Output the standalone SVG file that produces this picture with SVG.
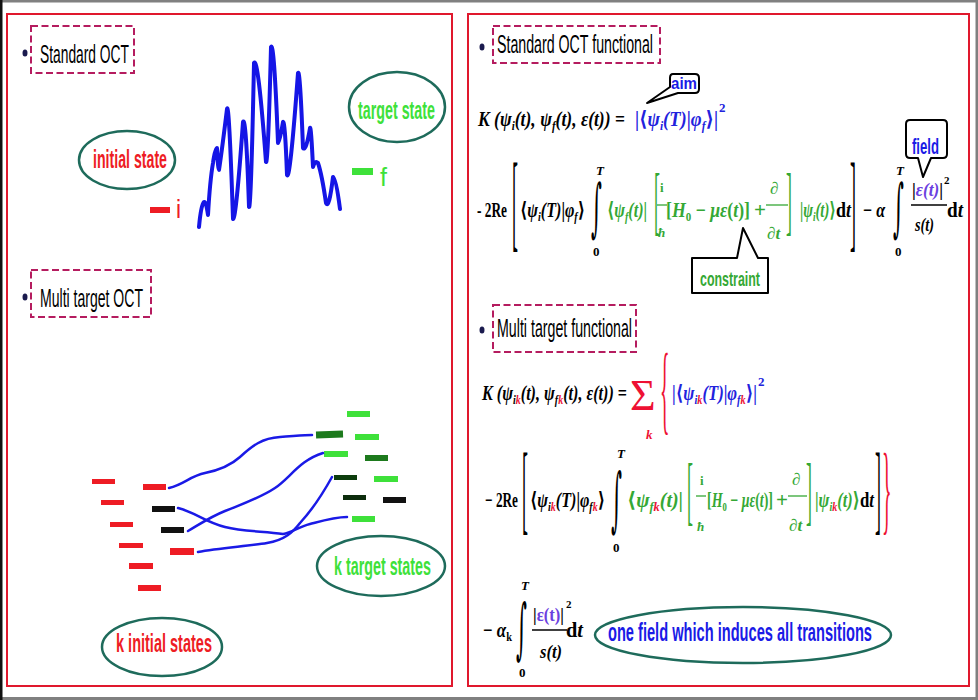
<svg xmlns="http://www.w3.org/2000/svg" width="978" height="700" viewBox="0 0 978 700">
<style>
.panel{fill:none;stroke:#e0182d;stroke-width:2}
.dash{fill:#fff;stroke:#b51c5f;stroke-width:2;stroke-dasharray:7 3.5}
.bul{fill:#1a1a4e}
.hd{font-family:"Liberation Sans",Arial,sans-serif;font-size:26px;fill:#000}
.lab{font-family:"Liberation Sans",Arial,sans-serif;font-weight:bold;font-size:25px}
.ell{fill:#fff;stroke:#1e6b5b;stroke-width:2.5}
.red{fill:#ee1c24}
.grn{fill:#3ee13a}
.blu{fill:#1a1ae6}
.wave{fill:none;stroke:#1515e6;stroke-width:4;stroke-linejoin:round;stroke-linecap:round}
.conn{fill:none;stroke:#1a1ae6;stroke-width:2.5;stroke-linecap:round;stroke-linejoin:round}
.m{font-family:"Liberation Serif","DejaVu Serif",serif;font-weight:bold;font-style:italic;font-size:21px}
.n{font-style:normal}
.s{font-size:13px}
.eg{fill:#35a835}
.eb{fill:#2222dd}
.ep{fill:#6a40e0}
.er{fill:#ee1133}
.big{font-family:"Liberation Serif","DejaVu Serif",serif;font-size:36px}
.int{font-family:"DejaVu Serif",serif;font-size:60px}
.call{fill:#fff;stroke:#000;stroke-width:2;stroke-linejoin:round}
.fb{stroke-width:1.3}
</style>
<rect x="0" y="0" width="978" height="700" fill="#fff"/>
<rect x="0" y="0" width="978" height="2.5" fill="#808080"/>
<rect x="0" y="697" width="978" height="3" fill="#808080"/>
<rect x="975.5" y="0" width="2.5" height="700" fill="#808080"/>
<rect x="0" y="0" width="2.5" height="700" fill="#111"/>

<g id="left-panel">
<rect class="panel" x="7" y="14" width="445" height="672"/>
</g>
<g id="right-panel">
<rect class="panel" x="468" y="14" width="501" height="672"/>
</g>

<g id="standard-oct-title">
<ellipse class="bul" cx="25" cy="53" rx="2.5" ry="3.5"/>
<rect class="dash" x="31" y="26" width="103" height="47"/>
<text class="hd" x="40" y="63" textLength="89" lengthAdjust="spacingAndGlyphs">Standard OCT</text>
</g>

<g id="wave">
<path class="wave" d="M199,227 Q201,205 204,202 Q206,201 208,215 Q210,180 213,163 Q215,148 217,148 Q218,170 219,170 Q222,150 227,109 Q229,100 233,219 Q236,220 243,122 Q246,115 249,207 Q251,210 254,63 Q258,55 266,162 Q268,165 271,47 Q274,40 278,143 Q280,140 283,122 Q285,120 287,175 Q290,182 298,73 Q300,68 303,148 Q306,152 310,128 Q311,125 313,167 Q315,160 318,163 Q322,175 326,203 Q329,210 333,177 Q336,178 340,209"/>
</g>

<g id="initial-state">
<ellipse class="ell" cx="127" cy="160" rx="48" ry="29"/>
<text class="lab red" x="93" y="168" textLength="74" lengthAdjust="spacingAndGlyphs">initial state</text>
</g>
<g id="level-i">
<rect class="red" x="150" y="207" width="20" height="6"/>
<text class="red" x="176" y="218" style="font-family:'Liberation Sans',Arial,sans-serif;font-size:26px" textLength="5" lengthAdjust="spacingAndGlyphs">i</text>
</g>
<g id="target-state">
<ellipse class="ell" cx="397" cy="107" rx="48" ry="35"/>
<text class="lab grn" x="358" y="119" textLength="77" lengthAdjust="spacingAndGlyphs">target state</text>
</g>
<g id="level-f">
<rect class="grn" x="352" y="168" width="21" height="7"/>
<text class="grn" x="380" y="186" style="font-family:'Liberation Sans',Arial,sans-serif;font-size:26px" textLength="7" lengthAdjust="spacingAndGlyphs">f</text>
</g>

<g id="multi-oct-title">
<ellipse class="bul" cx="25" cy="297" rx="2.5" ry="3.5"/>
<rect class="dash" x="31" y="270" width="120" height="47"/>
<text class="hd" x="40" y="307" textLength="103" lengthAdjust="spacingAndGlyphs">Multi target OCT</text>
</g>

<g id="initial-levels">
<rect class="red" x="92" y="479" width="23" height="5"/>
<rect class="red" x="101" y="500" width="23" height="5"/>
<rect class="red" x="110" y="522" width="23" height="5"/>
<rect class="red" x="119" y="543" width="24" height="5"/>
<rect class="red" x="129" y="563" width="24" height="6"/>
<rect class="red" x="138" y="585" width="23" height="6"/>
<rect class="red" x="143" y="484" width="23" height="6"/>
<rect fill="#111" x="152" y="506" width="23" height="6"/>
<rect fill="#111" x="161" y="527" width="23" height="6"/>
<rect class="red" x="170" y="548" width="24" height="7"/>
</g>
<g id="target-levels">
<rect fill="#1d7a1d" x="316" y="431" width="27" height="7" transform="rotate(-2 329 434)"/>
<rect class="grn" x="347" y="411" width="23" height="6"/>
<rect class="grn" x="355" y="434" width="24" height="6"/>
<rect class="grn" x="324" y="451" width="24" height="6"/>
<rect fill="#1d7a1d" x="365" y="455" width="23" height="6"/>
<rect fill="#0d3d0d" x="334" y="475" width="23" height="5"/>
<rect class="grn" x="374" y="476" width="24" height="6"/>
<rect fill="#0d2d0d" x="343" y="495" width="23" height="5"/>
<rect fill="#111" x="383" y="497" width="23" height="6"/>
<rect class="grn" x="352" y="516" width="23" height="6"/>
</g>
<g id="connectors">
<path class="conn" d="M169,488 C185,484 190,476 205,473 C220,470 230,466 240,457 C252,446 262,438 280,437 C295,436 305,435 312,435"/>
<path class="conn" d="M188,531 C200,524 210,517 225,511 C245,503 260,498 275,488 C290,478 300,460 323,453"/>
<path class="conn" d="M178,508 C195,512 205,522 225,527 C245,532 265,531 283,534 C292,533 298,527 310,524 C325,520 335,517 347,517"/>
<path class="conn" d="M198,552 C220,548 250,546 267,543 C285,540 293,532 300,523 C312,510 322,495 332,477"/>
</g>
<g id="k-target-states">
<ellipse class="ell" cx="381" cy="566" rx="64" ry="30"/>
<text class="lab grn" x="334" y="575" textLength="97" lengthAdjust="spacingAndGlyphs">k target states</text>
</g>
<g id="k-initial-states">
<ellipse class="ell" cx="162" cy="647" rx="60" ry="29"/>
<text class="lab red" x="116" y="652" textLength="96" lengthAdjust="spacingAndGlyphs">k initial states</text>
</g>

<g id="standard-functional-title">
<ellipse class="bul" cx="482" cy="47" rx="2.5" ry="3.5"/>
<rect class="dash" x="493" y="26" width="167" height="37"/>
<text class="hd" x="497" y="53" style="font-size:25px" textLength="156" lengthAdjust="spacingAndGlyphs">Standard OCT functional</text>
</g>

<g id="eq1">
<text class="m" x="478" y="126" textLength="147" lengthAdjust="spacingAndGlyphs">K (ψ<tspan class="s" dy="4">i</tspan><tspan dy="-4">(t), ψ</tspan><tspan class="s" dy="4">f</tspan><tspan dy="-4">(t), ε(t)) </tspan><tspan class="n">=</tspan></text>
<text class="m eb" x="635" y="126" textLength="83" lengthAdjust="spacingAndGlyphs"><tspan class="n">|⟨</tspan>ψ<tspan class="s" dy="4">i</tspan><tspan dy="-4">(T)</tspan><tspan class="n">|</tspan>φ<tspan class="s" dy="4">f</tspan><tspan class="n" dy="-4">⟩|</tspan></text>
<text class="m n eb s" x="719" y="112">2</text>
</g>

<g id="eq2">
<text class="m n" x="477" y="217" textLength="30" lengthAdjust="spacingAndGlyphs">- 2Re</text>
<text class="big" transform="translate(512,237.6) scale(0.5,3)">[</text>
<text class="m" x="520" y="217" textLength="65" lengthAdjust="spacingAndGlyphs"><tspan class="n">⟨</tspan>ψ<tspan class="s" dy="4">i</tspan><tspan dy="-4">(T)</tspan><tspan class="n">|</tspan>φ<tspan class="s" dy="4">f</tspan><tspan class="n" dy="-4">⟩</tspan></text>
<text class="int" transform="translate(591,229) scale(0.35,1.05)">∫</text>
<text class="m s" x="596" y="175">T</text>
<text class="m n s" x="593" y="256">0</text>
<text class="m eg" x="607" y="217" textLength="40" lengthAdjust="spacingAndGlyphs"><tspan class="n">⟨</tspan>ψ<tspan class="s" dy="4">f</tspan><tspan dy="-4">(t)</tspan><tspan class="n">|</tspan></text>
<text class="big eg" transform="translate(654,226) scale(0.5,2.14)">[</text>
<text class="m n eg s" x="660" y="192">i</text>
<line class="fb" x1="657" y1="205" x2="667" y2="205" stroke="#35a835"/>
<text class="m eg s" x="658" y="237">ħ</text>
<text class="m eg" x="666" y="217" textLength="84" lengthAdjust="spacingAndGlyphs"><tspan class="n">[</tspan>H<tspan class="s n" dy="4">0</tspan><tspan class="n" dy="-4"> − </tspan>με<tspan class="n">(</tspan>t<tspan class="n">)]</tspan></text>
<text class="m n eg" x="754" y="217">+</text>
<text class="m eg" x="770" y="194" style="font-size:17px">∂</text>
<line class="fb" x1="766" y1="205" x2="788" y2="205" stroke="#35a835"/>
<text class="m eg" x="767" y="239" style="font-size:17px">∂t</text>
<text class="big eg" transform="translate(786,226) scale(0.5,2.14)">]</text>
<text class="m eg" x="800" y="217" textLength="36" lengthAdjust="spacingAndGlyphs"><tspan class="n">|</tspan>ψ<tspan class="s" dy="4">i</tspan><tspan dy="-4">(t)</tspan><tspan class="n">⟩</tspan></text>
<text class="m n" x="836" y="217" textLength="15" lengthAdjust="spacingAndGlyphs">d<tspan style="font-style:italic">t</tspan></text>
<text class="big" transform="translate(850,237.6) scale(0.5,3)">]</text>
<text class="m" x="863" y="217" textLength="22" lengthAdjust="spacingAndGlyphs"><tspan class="n">−</tspan> α</text>
<text class="int" transform="translate(893,229) scale(0.35,1.05)">∫</text>
<text class="m s" x="896" y="175">T</text>
<text class="m n s" x="895" y="256">0</text>
<text class="m" x="912" y="196" style="font-size:18px" textLength="31" lengthAdjust="spacingAndGlyphs"><tspan class="n">|</tspan><tspan class="ep">ε(t)</tspan><tspan class="n">|</tspan></text>
<text class="m n" x="944" y="184" style="font-size:11px">2</text>
<line class="fb" x1="911" y1="205" x2="947" y2="205" stroke="#000"/>
<text class="m" x="915" y="231" style="font-size:18px" textLength="19" lengthAdjust="spacingAndGlyphs">s(t)</text>
<text class="m n" x="947" y="217" textLength="16" lengthAdjust="spacingAndGlyphs">d<tspan style="font-style:italic">t</tspan></text>
</g>

<g id="aim-callout">
<path class="call" d="M673,74 H695 Q699,74 699,78 V89 Q699,93 695,93 H678 L647,103 L670,87 V78 Q670,74 673,74 Z"/>
<text class="lab blu" x="671" y="89" style="font-size:16px" textLength="26" lengthAdjust="spacingAndGlyphs">aim</text>
</g>
<g id="field-callout">
<path class="call" d="M910,120 H943 Q947,120 947,124 V154 Q947,158 943,158 H931 L923,177 L918,158 H910 Q906,158 906,154 V124 Q906,120 910,120 Z"/>
<text class="lab blu" x="912" y="154" style="font-size:22px" textLength="27" lengthAdjust="spacingAndGlyphs">field</text>
</g>
<g id="constraint-callout">
<path class="call" d="M692,258 H737 L743,228 L758,258 H768 V293 H692 Z"/>
<text class="lab eg" x="700" y="286" style="font-size:21px" textLength="60" lengthAdjust="spacingAndGlyphs">constraint</text>
</g>

<g id="multi-functional-title">
<ellipse class="bul" cx="482" cy="330" rx="2.5" ry="3.5"/>
<rect class="dash" x="493" y="305" width="143" height="47"/>
<text class="hd" x="497" y="337" textLength="135" lengthAdjust="spacingAndGlyphs">Multi target functional</text>
</g>

<g id="eq3">
<text class="m" x="482" y="400" textLength="145" lengthAdjust="spacingAndGlyphs">K (ψ<tspan class="s" dy="4">i</tspan><tspan class="s er">k</tspan><tspan dy="-4">(t), ψ</tspan><tspan class="s" dy="4">f</tspan><tspan class="s er">k</tspan><tspan dy="-4">(t), ε(t)) </tspan><tspan class="n">=</tspan></text>
<text class="er" x="630" y="410" style="font-family:'Liberation Serif',serif;font-size:44px">Σ</text>
<text class="m er s" x="646" y="439">k</text>
<text class="big er" transform="translate(660,422) scale(0.55,2.78)">{</text>
<text class="m eb" x="672" y="400" textLength="85" lengthAdjust="spacingAndGlyphs"><tspan class="n">|⟨</tspan>ψ<tspan class="s" dy="4">i</tspan><tspan class="s er">k</tspan><tspan dy="-4">(T)</tspan><tspan class="n">|</tspan>φ<tspan class="s" dy="4">f</tspan><tspan class="s er">k</tspan><tspan class="n" dy="-4">⟩|</tspan></text>
<text class="m n eb s" x="758" y="386">2</text>
</g>

<g id="eq4">
<text class="m n" x="485" y="507" textLength="33" lengthAdjust="spacingAndGlyphs">− 2Re</text>
<text class="big" transform="translate(522,522) scale(0.5,2.78)">[</text>
<text class="m" x="530" y="507" textLength="75" lengthAdjust="spacingAndGlyphs"><tspan class="n">⟨</tspan>ψ<tspan class="s" dy="4">i</tspan><tspan class="s er">k</tspan><tspan dy="-4">(T)</tspan><tspan class="n">|</tspan>φ<tspan class="s" dy="4">f</tspan><tspan class="s er">k</tspan><tspan class="n" dy="-4">⟩</tspan></text>
<text class="int" transform="translate(611,523) scale(0.35,1.17)">∫</text>
<text class="m s" x="617" y="458">T</text>
<text class="m n s" x="613" y="552">0</text>
<text class="m eg" x="627" y="507" textLength="56" lengthAdjust="spacingAndGlyphs"><tspan class="n">⟨</tspan>ψ<tspan class="s" dy="4">f</tspan><tspan class="s er">k</tspan><tspan dy="-4">(t)</tspan><tspan class="n">|</tspan></text>
<text class="big eg" transform="translate(687,516) scale(0.5,2.14)">[</text>
<text class="m n eg s" x="700" y="485">i</text>
<line class="fb" x1="696" y1="496" x2="706" y2="496" stroke="#35a835"/>
<text class="m eg s" x="697" y="531">ħ</text>
<text class="m eg" x="707" y="507" textLength="66" lengthAdjust="spacingAndGlyphs"><tspan class="n">[</tspan>H<tspan class="s n" dy="4">0</tspan><tspan class="n" dy="-4"> − </tspan>με<tspan class="n">(</tspan>t<tspan class="n">)]</tspan></text>
<text class="m n eg" x="776" y="507">+</text>
<text class="m eg" x="792" y="485" style="font-size:17px">∂</text>
<line class="fb" x1="788" y1="496" x2="807" y2="496" stroke="#35a835"/>
<text class="m eg" x="789" y="531" style="font-size:17px">∂t</text>
<text class="big eg" transform="translate(806,516) scale(0.5,2.14)">]</text>
<text class="m eg" x="815" y="507" textLength="45" lengthAdjust="spacingAndGlyphs"><tspan class="n">|</tspan>ψ<tspan class="s" dy="4">i</tspan><tspan class="s er">k</tspan><tspan dy="-4">(t)</tspan><tspan class="n">⟩</tspan></text>
<text class="m n" x="860" y="507" textLength="14" lengthAdjust="spacingAndGlyphs">d<tspan style="font-style:italic">t</tspan></text>
<text class="big" transform="translate(875,522) scale(0.5,2.78)">]</text>
<text class="big er" transform="translate(882,522) scale(0.55,2.78)">}</text>
</g>

<g id="eq5">
<text class="m" x="483" y="637" textLength="29" lengthAdjust="spacingAndGlyphs"><tspan class="n">−</tspan> α<tspan class="s n" dy="4">k</tspan></text>
<text class="int" transform="translate(516,651) scale(0.35,1.1)">∫</text>
<text class="m s" x="521" y="590">T</text>
<text class="m n s" x="519" y="677">0</text>
<text class="m" x="533" y="621" style="font-size:18px" textLength="31" lengthAdjust="spacingAndGlyphs"><tspan class="n">|</tspan><tspan class="ep n">ε(t)</tspan><tspan class="n">|</tspan></text>
<text class="m n" x="566" y="608" style="font-size:11px">2</text>
<line class="fb" x1="532" y1="630" x2="567" y2="630" stroke="#000"/>
<text class="m" x="540" y="658" style="font-size:18px" textLength="22" lengthAdjust="spacingAndGlyphs">s(t)</text>
<text class="m n" x="566" y="637" textLength="17" lengthAdjust="spacingAndGlyphs">d<tspan style="font-style:italic">t</tspan></text>
</g>

<g id="one-field">
<ellipse class="ell" cx="743" cy="635" rx="148" ry="28"/>
<text class="lab blu" x="608" y="641" textLength="264" lengthAdjust="spacingAndGlyphs">one field which induces all transitions</text>
</g>
</svg>
